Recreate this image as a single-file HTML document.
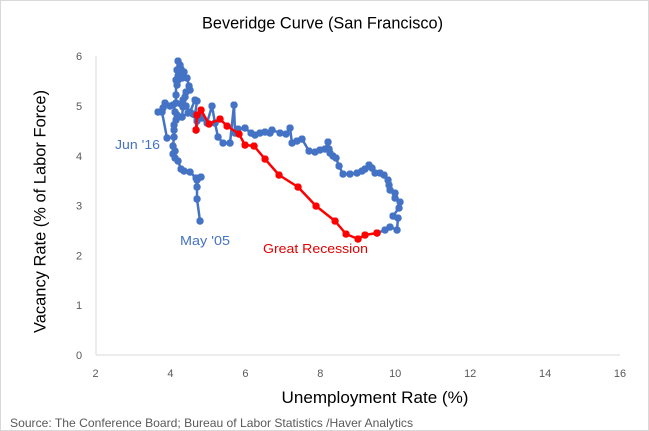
<!DOCTYPE html>
<html><head><meta charset="utf-8"><style>
html,body{margin:0;padding:0;background:#fff;}
svg{display:block;}
</style></head><body>
<svg width="649" height="431" viewBox="0 0 649 431" xmlns="http://www.w3.org/2000/svg" font-family="Liberation Sans, sans-serif">
<rect x="0.5" y="0.5" width="648" height="430" fill="#fff" stroke="#d9d9d9" stroke-width="1"/>
<text x="322.5" y="28.5" font-size="17" text-anchor="middle" fill="#000" textLength="241" lengthAdjust="spacingAndGlyphs">Beveridge Curve (San Francisco)</text>
<!-- axes -->
<line x1="96" y1="56" x2="96" y2="355" stroke="#d9d9d9" stroke-width="1"/>
<line x1="96" y1="355" x2="620" y2="355" stroke="#d9d9d9" stroke-width="1"/>
<!-- y tick labels -->
<g font-size="11" fill="#595959" text-anchor="middle">
<text x="79" y="359">0</text>
<text x="79" y="309.2">1</text>
<text x="79" y="259.4">2</text>
<text x="79" y="209.6">3</text>
<text x="79" y="159.8">4</text>
<text x="79" y="110">5</text>
<text x="79" y="60.2">6</text>
</g>
<g font-size="11" fill="#595959" text-anchor="middle">
<text x="95.5" y="377">2</text>
<text x="170.4" y="377">4</text>
<text x="245.4" y="377">6</text>
<text x="320.3" y="377">8</text>
<text x="395.2" y="377">10</text>
<text x="470.2" y="377">12</text>
<text x="545.1" y="377">14</text>
<text x="620" y="377">16</text>
</g>
<text transform="translate(45.5,211.5) rotate(-90)" x="0" y="0" font-size="17" text-anchor="middle" fill="#000" textLength="243" lengthAdjust="spacingAndGlyphs">Vacancy Rate (% of Labor Force)</text>
<text x="375" y="403" font-size="17" text-anchor="middle" fill="#000" textLength="187" lengthAdjust="spacingAndGlyphs">Unemployment Rate (%)</text>
<text x="10" y="427" font-size="12" fill="#595959" textLength="403" lengthAdjust="spacingAndGlyphs">Source: The Conference Board; Bureau of Labor Statistics /Haver Analytics</text>
<!-- annotations -->
<text x="115" y="149" font-size="13" fill="#4472C4" textLength="45" lengthAdjust="spacingAndGlyphs">Jun '16</text>
<text x="180" y="245" font-size="13" fill="#4472C4" textLength="50" lengthAdjust="spacingAndGlyphs">May '05</text>
<text x="263" y="253" font-size="13" fill="#E00000" textLength="105" lengthAdjust="spacingAndGlyphs">Great Recession</text>

<defs>
<marker id="db" viewBox="0 0 10 10" refX="5" refY="5" markerWidth="7.5" markerHeight="7.5" markerUnits="userSpaceOnUse"><circle cx="5" cy="5" r="5" fill="#4472C4"/></marker>
<marker id="dr" viewBox="0 0 10 10" refX="5" refY="5" markerWidth="7.5" markerHeight="7.5" markerUnits="userSpaceOnUse"><circle cx="5" cy="5" r="5" fill="#FF0000"/></marker>
</defs>

<!-- Blue segment A: May '05 to recession start -->
<polyline fill="none" stroke="#4472C4" stroke-width="2.5" stroke-linejoin="round" marker-start="url(#db)" marker-mid="url(#db)" marker-end="url(#db)"
points="200,221 197,199 197,187 197,180 201,177 196,178 190,172 184,171 181,169 178,161 175,158 173,154 175,151 173,146 174,137 174,130 174,125 176,120 175,112 178,117 182,117 183,107 183,100 185,97 186,92 190,90 189,86 187,78 184,72 182,78 178,80 177,85 178,76 181,69 180,65 178,61 177,70 176,80 176,95 176,103 181,104 186,106 190,112 195,100 197,101 195,115 199,116 196,130"/>

<!-- Blue segment B: after recession to Jun '16 -->
<polyline fill="none" stroke="#4472C4" stroke-width="2.5" stroke-linejoin="round" marker-start="url(#db)" marker-mid="url(#db)" marker-end="url(#db)"
points="377,233 385,230 390,227 397,230 398,218 393,216 399,208 400,202 395,198 395,193 390,190 389,185 388,180 384,175 380,173 375,173 372,168 369,165 365,169 362,171 357,173 350,174 343,174 339,166 336,158 333,156 330,153 329,149 328,142 325,149 320,150 315,152 309,151 302,139 297,141 292,143 290,128 286,134 280,133 272,130 270,133 265,132 260,133 255,135 251,133 245,128 238,129 235,133 234,105 230,143 223,143 218,137 215,123 212,106 207,123 202,118 197,121 193,114 188,113 182,117 177,115 173,105 170,106 165,103 163,108 158,112 162,112 167,138"/>

<!-- Red: Great Recession -->
<polyline fill="none" stroke="#FF0000" stroke-width="2.5" stroke-linejoin="round" marker-start="url(#dr)" marker-mid="url(#dr)" marker-end="url(#dr)"
points="196,130 197,115 201,110 209,124 220,119 227,126 239,134 245,145 254,146 265,159 279,175 298,187 316,206 335,221 346,234 358,239 365,235 377,233"/>
</svg>
</body></html>
